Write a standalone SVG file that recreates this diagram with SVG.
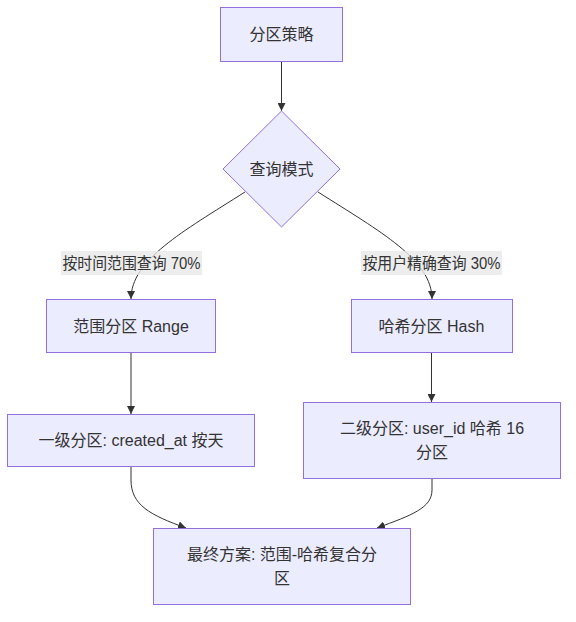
<svg xmlns="http://www.w3.org/2000/svg" width="576" height="622" viewBox="0 0 576 622">
<style>
.node{fill:#ECECFF;stroke:#9370DB;stroke-width:1}
.t{font-family:"Liberation Sans","Noto Sans CJK SC",sans-serif;font-size:16px;fill:#333;text-anchor:middle;dominant-baseline:central}
.e{fill:none;stroke:#333;stroke-width:1}
.lb{fill:#E8E8E8;fill-opacity:0.8}
</style>
<defs>
<marker id="ah" viewBox="0 0 10 10" refX="10" refY="5" markerWidth="8" markerHeight="8" markerUnits="userSpaceOnUse" orient="auto">
<path d="M0,0 L10,5 L0,10 z" fill="#333"/>
</marker>
</defs>
<rect width="576" height="622" fill="#fff"/>
<g id="connectors">
<path class="e" d="M281.5,61 L281.5,111" marker-end="url(#ah)"/>
<path class="e" d="M245,192 C182,232 131,260 131,299" marker-end="url(#ah)"/>
<path class="e" d="M318,192 C381,232 432,260 432,299" marker-end="url(#ah)"/>
<path class="e" d="M131,353 L131,414" marker-end="url(#ah)"/>
<path class="e" d="M431.5,353 L431.5,402" marker-end="url(#ah)"/>
<path class="e" d="M131,467 L131,480 C131,505 150,515 186,528" marker-end="url(#ah)"/>
<path class="e" d="M432,479 L432,490 C432,508 412,515 377,528" marker-end="url(#ah)"/>
</g>
<g id="edge-labels">
<g id="label-range">
<rect class="lb" x="61" y="251" width="141" height="24"/>
<text class="t" x="131.5" y="263" textLength="138" lengthAdjust="spacingAndGlyphs">按时间范围查询 70%</text>
</g>
<g id="label-hash">
<rect class="lb" x="361" y="251" width="141" height="24"/>
<text class="t" x="431.5" y="263" textLength="138" lengthAdjust="spacingAndGlyphs">按用户精确查询 30%</text>
</g>
</g>
<g id="n-strategy">
<rect class="node" x="220.5" y="7.5" width="122" height="54"/>
<text class="t" x="281.5" y="34.5">分区策略</text>
</g>
<g id="n-query">
<polygon class="node" points="281.5,111 340,169 281.5,227 223,169"/>
<text class="t" x="281.5" y="169">查询模式</text>
</g>
<g id="n-range">
<rect class="node" x="46.5" y="299.5" width="169" height="53"/>
<text class="t" x="131" y="326">范围分区 Range</text>
</g>
<g id="n-hash">
<rect class="node" x="351.5" y="299.5" width="161" height="53"/>
<text class="t" x="431.5" y="326">哈希分区 Hash</text>
</g>
<g id="n-level1">
<rect class="node" x="7.5" y="414.5" width="247" height="52"/>
<text class="t" x="131" y="440.5">一级分区: created_at 按天</text>
</g>
<g id="n-level2">
<rect class="node" x="303.5" y="402.5" width="257" height="76"/>
<text class="t" x="432" y="428.5">二级分区: user_id 哈希 16</text>
<text class="t" x="432" y="452.5">分区</text>
</g>
<g id="n-final">
<rect class="node" x="153.5" y="528.5" width="257" height="76"/>
<text class="t" x="282" y="554.5">最终方案: 范围-哈希复合分</text>
<text class="t" x="282" y="578.5">区</text>
</g>
</svg>
